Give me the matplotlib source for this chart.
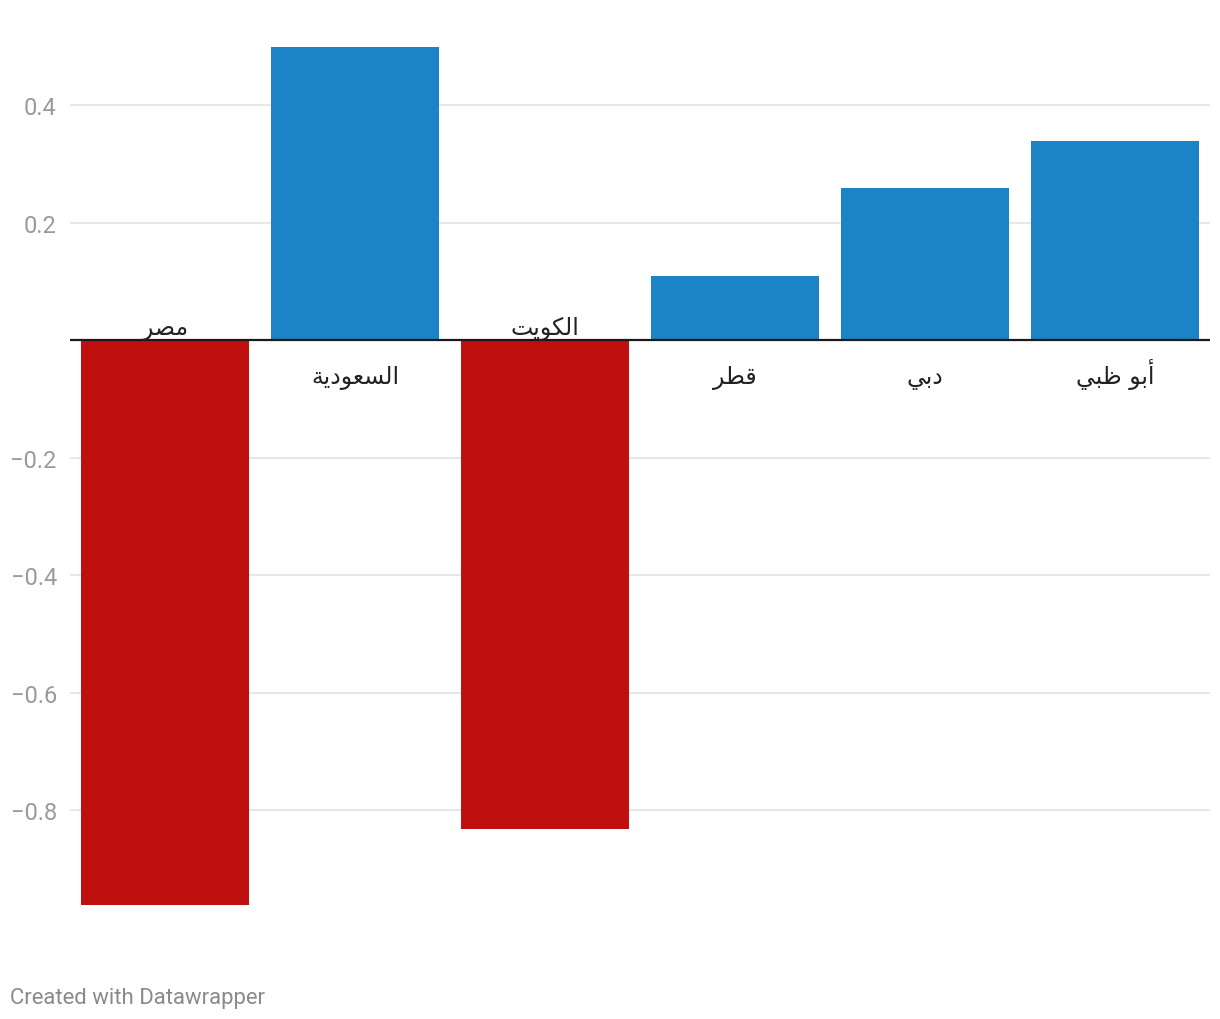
import matplotlib
matplotlib.use("Agg")
import matplotlib.pyplot as plt

# data
labels = ["مصر", "السعودية", "الكويت", "قطر", "دبي", "أبو ظبي"]
values = [-0.961, 0.499, -0.831, 0.109, 0.259, 0.339]
yticks = [-0.8, -0.6, -0.4, -0.2, 0.2, 0.4]

BLUE = "#1b83c6"
RED = "#c00f0f"

# matplotlib does not shape Arabic, so map letters to presentation forms
# (isolated, final, initial, medial); None = right-joining only
FORMS = {
    "ا": ("\uFE8D", "\uFE8E", None, None),
    "أ": ("\uFE83", "\uFE84", None, None),
    "ب": ("\uFE8F", "\uFE90", "\uFE91", "\uFE92"),
    "ة": ("\uFE93", "\uFE94", None, None),
    "ت": ("\uFE95", "\uFE96", "\uFE97", "\uFE98"),
    "د": ("\uFEA9", "\uFEAA", None, None),
    "ر": ("\uFEAD", "\uFEAE", None, None),
    "س": ("\uFEB1", "\uFEB2", "\uFEB3", "\uFEB4"),
    "ص": ("\uFEB9", "\uFEBA", "\uFEBB", "\uFEBC"),
    "ط": ("\uFEC1", "\uFEC2", "\uFEC3", "\uFEC4"),
    "ظ": ("\uFEC5", "\uFEC6", "\uFEC7", "\uFEC8"),
    "ع": ("\uFEC9", "\uFECA", "\uFECB", "\uFECC"),
    "ق": ("\uFED5", "\uFED6", "\uFED7", "\uFED8"),
    "ك": ("\uFED9", "\uFEDA", "\uFEDB", "\uFEDC"),
    "ل": ("\uFEDD", "\uFEDE", "\uFEDF", "\uFEE0"),
    "م": ("\uFEE1", "\uFEE2", "\uFEE3", "\uFEE4"),
    "و": ("\uFEED", "\uFEEE", None, None),
    "ي": ("\uFEF1", "\uFEF2", "\uFEF3", "\uFEF4"),
}


def shape(text):
    out = []
    for i, ch in enumerate(text):
        if ch not in FORMS:
            out.append(ch)
            continue
        prev = text[i - 1] if i > 0 else ""
        nxt = text[i + 1] if i + 1 < len(text) else ""
        join_prev = prev in FORMS and FORMS[prev][2] is not None
        join_next = FORMS[ch][2] is not None and nxt in FORMS
        iso, fin, ini, med = FORMS[ch]
        if join_prev and join_next:
            out.append(med)
        elif join_prev:
            out.append(fin)
        elif join_next:
            out.append(ini)
        else:
            out.append(iso)
    return "".join(reversed(out))


fig = plt.figure(figsize=(12.2, 10.2), dpi=100)
ax = fig.add_axes([70 / 1220, 1 - 906 / 1020, 1140 / 1220, (906 - 48) / 1020])

x = list(range(len(values)))
colors = [RED if v < 0 else BLUE for v in values]
ax.bar(x, values, width=0.885, color=colors, zorder=2)

ax.set_xlim(-0.5, len(values) - 0.5)
ax.set_ylim(min(values), max(values))

for yv in yticks:
    ax.axhline(yv, color="#e3e3e3", lw=1.2, zorder=1)
ax.axhline(0, color="#1a1a1a", lw=1.6, zorder=3)

ax.set_yticks(yticks)
ax.set_yticklabels([f"{t:.1f}".replace("-", "\u2212") for t in yticks],
                   fontfamily="Roboto", fontsize=17, color="#9a9a9a")
ax.tick_params(axis="y", length=0, pad=9.5)
ax.set_xticks([])
for s in ax.spines.values():
    s.set_visible(False)

# labels sit on a common baseline: above the zero line for negative bars, below for positive
for xi, v, lab in zip(x, values, labels):
    dy = 4.5 if v < 0 else -31
    ax.annotate(shape(lab), (xi, 0), xytext=(0, dy), textcoords="offset points",
                ha="center", va="baseline", fontsize=17, color="#222222",
                fontfamily="DejaVu Sans")

fig.text(10 / 1220, 1 - 999 / 1020, "Created with Datawrapper", fontfamily="Roboto",
         fontsize=15.9, color="#8a8a8a", ha="left", va="center")

fig.savefig("out.png", dpi=100, facecolor="white")
